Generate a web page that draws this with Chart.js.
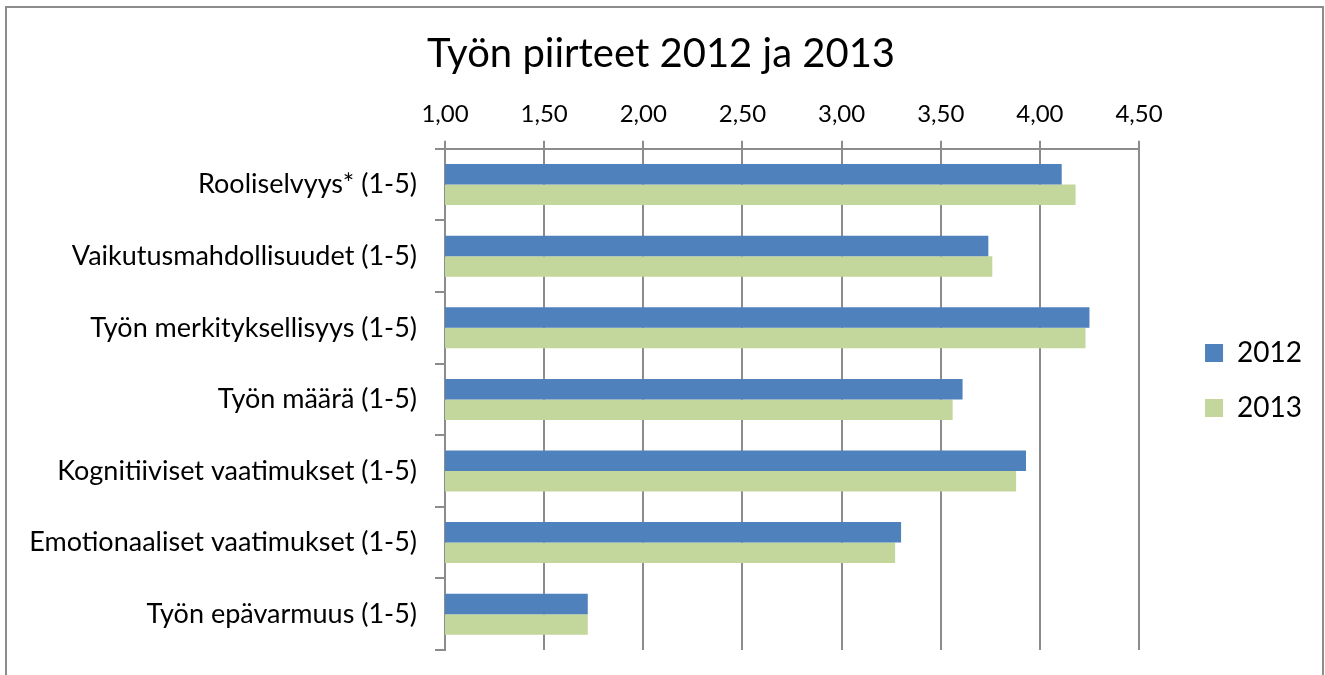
<!DOCTYPE html>
<html>
<head>
<meta charset="utf-8">
<script src="https://cdn.jsdelivr.net/npm/chart.js@4"></script>
<style>
  body { margin: 0; background: #fff; }
  #frame {
    position: absolute; left: 5px; top: 6px; width: 1319px; height: 690px;
    border: 2px solid #8c8c8c; border-bottom: none; box-sizing: border-box;
  }
  #wrap { position: absolute; left: 0; top: 0; width: 1325px; height: 675px; }
</style>
</head>
<body>
<div id="frame"></div>
<div id="wrap"><canvas id="myChart"></canvas></div>
<script>
const categories = [
  "Rooliselvyys* (1-5)",
  "Vaikutusmahdollisuudet (1-5)",
  "Työn merkityksellisyys (1-5)",
  "Työn määrä (1-5)",
  "Kognitiiviset vaatimukset (1-5)",
  "Emotionaaliset vaatimukset (1-5)",
  "Työn epävarmuus (1-5)"
];
const values2012 = [4.11, 3.74, 4.25, 3.61, 3.93, 3.30, 1.72];
const values2013 = [4.18, 3.76, 4.23, 3.56, 3.88, 3.27, 1.72];
const xTicks = [1.0, 1.5, 2.0, 2.5, 3.0, 3.5, 4.0, 4.5];

const ctx = document.getElementById("myChart");
const gridColor = "#8c8c8c";
const fontFamily = "Lato";

function drawChart() {
  new Chart(ctx, {
    type: "bar",
    data: {
      labels: categories,
      datasets: [
        {
          label: "2012",
          data: values2012,
          backgroundColor: "#4f81bd",
          borderWidth: 0,
          categoryPercentage: 0.573,
          barPercentage: 1.0,
        },
        {
          label: "2013",
          data: values2013,
          backgroundColor: "#c3d69b",
          borderWidth: 0,
          categoryPercentage: 0.573,
          barPercentage: 1.0,
        },
      ],
    },
    options: {
      indexAxis: "y",
      responsive: true,
      maintainAspectRatio: false,
      animation: false,
      layout: { padding: { left: 10, right: 13, top: 20, bottom: 25 } },
      plugins: {
        title: {
          display: true,
          text: "Työn piirteet 2012 ja 2013",
          color: "#000",
          font: { family: fontFamily, size: 40, weight: "normal" },
          padding: { top: 10, bottom: 10 },
        },
        legend: {
          position: "right",
          align: "center",
          title: {
            display: true,
            text: " ",
            font: { family: fontFamily, size: 10 },
            padding: { top: 79, bottom: 0 },
          },
          labels: {
            color: "#000",
            boxWidth: 18,
            boxHeight: 18,
            padding: 27,
            font: { family: fontFamily, size: 28 },
          },
        },
        tooltip: { enabled: false },
      },
      scales: {
        x: {
          position: "top",
          min: 1,
          max: 4.5,
          afterBuildTicks: (axis) => {
            axis.ticks = xTicks.map((v) => ({ value: v }));
          },
          ticks: {
            color: "#000",
            font: { family: fontFamily, size: 24 },
            padding: 12,
            callback: (v) => Number(v).toFixed(2).replace(".", ","),
          },
          grid: { color: gridColor, lineWidth: 2, tickLength: 8 },
          border: { color: gridColor, width: 2 },
        },
        y: {
          afterFit: (axis) => {
            axis.width = 435;
            axis.paddingTop = 0;
            axis.paddingBottom = 0;
          },
          ticks: {
            color: "#000",
            font: { family: fontFamily, size: 27 },
            padding: 18,
          },
          grid: {
            color: gridColor,
            lineWidth: 2,
            drawOnChartArea: false,
            tickLength: 10,
            offset: true,
          },
          border: { color: gridColor, width: 2 },
        },
        // empty spacer between the plot and the legend
        gap: {
          type: "linear",
          axis: "y",
          position: "right",
          display: true,
          ticks: { display: false },
          grid: { display: false, drawTicks: false },
          border: { display: false },
          afterFit: (axis) => {
            axis.width = 39;
            axis.paddingTop = 0;
            axis.paddingBottom = 0;
          },
        },
      },
    },
  });
}

Promise.all([
  document.fonts.load("24px Lato"),
  document.fonts.load("40px Lato"),
]).then(drawChart, drawChart);
</script>
</body>
</html>
